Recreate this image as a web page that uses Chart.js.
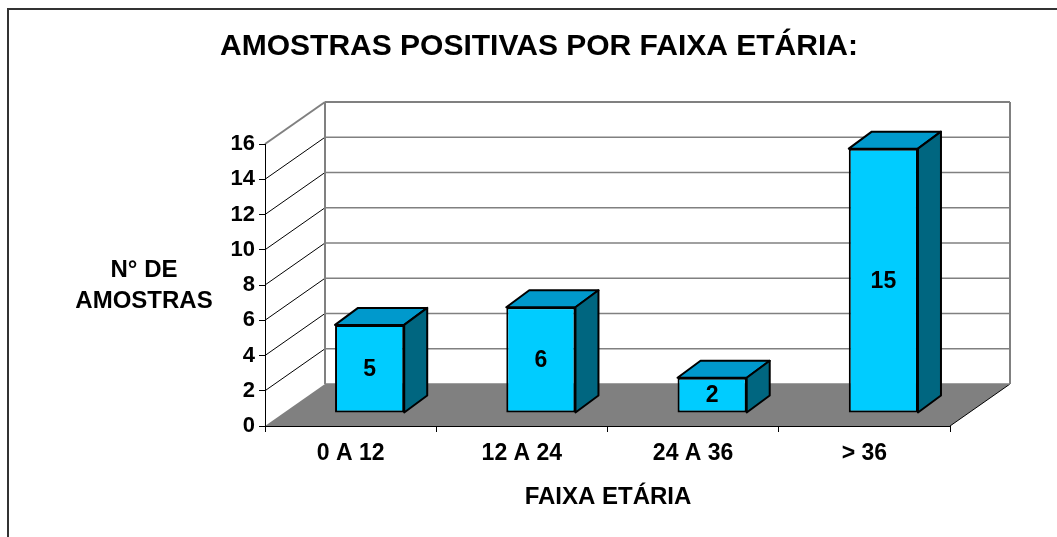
<!DOCTYPE html>
<html>
<head>
<meta charset="utf-8">
<script src="https://cdn.jsdelivr.net/npm/chart.js@4"></script>
<style>
  body { margin: 0; background: #fff; }
  canvas { display: block; }
</style>
</head>
<body>
<canvas id="myChart" width="1057" height="537"></canvas>
<script>
const faixas = ['0 A 12', '12 A 24', '24 A 36', '> 36'];
const amostras = [5, 6, 2, 15];
const yTicks = [0, 2, 4, 6, 8, 10, 12, 14, 16];

const titulo = 'AMOSTRAS POSITIVAS POR FAIXA ETÁRIA:';
const tituloY = ['N° DE', 'AMOSTRAS'];
const tituloX = 'FAIXA ETÁRIA';

const FONT = "'Liberation Sans', Arial, sans-serif";
Chart.defaults.font.family = FONT;

// wall depth and where the bars sit inside it
const wallDx = 60, wallDy = -42;
const barShiftX = 19, barShiftY = -13;
const barDx = 23, barDy = -17;

const walls = {
  id: 'walls',
  beforeDraw(chart) {
    const ctx = chart.ctx;
    const { left, right, bottom } = chart.chartArea;
    const y = chart.scales.y;
    const top = y.getPixelForValue(yTicks[yTicks.length - 1]);

    ctx.save();
    ctx.fillStyle = '#fff';
    ctx.fillRect(0, 0, chart.width, chart.height);

    // floor
    ctx.fillStyle = '#808080';
    ctx.beginPath();
    ctx.moveTo(left, bottom);
    ctx.lineTo(right, bottom);
    ctx.lineTo(right + wallDx, bottom + wallDy);
    ctx.lineTo(left + wallDx, bottom + wallDy);
    ctx.closePath();
    ctx.fill();

    ctx.strokeStyle = '#000';
    ctx.lineWidth = 1;
    ctx.beginPath();
    ctx.moveTo(right, bottom);
    ctx.lineTo(right + wallDx, bottom + wallDy);
    ctx.stroke();

    // left wall diagonals + back wall lines
    yTicks.forEach((v) => {
      const py = y.getPixelForValue(v);
      const last = v === yTicks[yTicks.length - 1];
      if (v > 0) {
        ctx.strokeStyle = last ? '#808080' : '#000';
        ctx.lineWidth = last ? 2 : 1;
        ctx.beginPath();
        ctx.moveTo(left, py);
        ctx.lineTo(left + wallDx, py + wallDy);
        ctx.stroke();
      }
      ctx.strokeStyle = '#808080';
      ctx.lineWidth = last ? 2 : 1.5;
      ctx.beginPath();
      ctx.moveTo(left + wallDx, py + wallDy);
      ctx.lineTo(right + wallDx, py + wallDy);
      ctx.stroke();
    });

    ctx.strokeStyle = '#808080';
    ctx.lineWidth = 2;
    ctx.beginPath();
    ctx.moveTo(left + wallDx, top + wallDy);
    ctx.lineTo(left + wallDx, bottom + wallDy);
    ctx.moveTo(right + wallDx, top + wallDy);
    ctx.lineTo(right + wallDx, bottom + wallDy);
    ctx.stroke();

    // outer frame
    ctx.strokeStyle = '#333';
    ctx.lineWidth = 2;
    ctx.beginPath();
    ctx.moveTo(8, chart.height);
    ctx.lineTo(8, 9);
    ctx.lineTo(chart.width, 9);
    ctx.stroke();

    // titles
    ctx.fillStyle = '#000';
    ctx.textAlign = 'center';
    ctx.textBaseline = 'middle';
    ctx.font = 'bold 30px ' + FONT;
    ctx.fillText(titulo, 539, 47);
    ctx.font = 'bold 24px ' + FONT;
    ctx.fillText(tituloY[0], 144, 270);
    ctx.fillText(tituloY[1], 144, 301);
    ctx.fillText(tituloX, 608, 497);
    ctx.restore();
  }
};

const bars3d = {
  id: 'bars3d',
  beforeDatasetsDraw(chart) {
    chart.ctx.save();
    chart.ctx.translate(barShiftX, barShiftY);
  },
  afterDatasetsDraw(chart) {
    const ctx = chart.ctx;
    const meta = chart.getDatasetMeta(0);
    ctx.lineWidth = 2;
    ctx.lineJoin = 'round';
    ctx.strokeStyle = '#000';
    meta.data.forEach((bar, i) => {
      const l = bar.x - bar.width / 2;
      const r = bar.x + bar.width / 2;
      const t = bar.y;
      const b = bar.base;

      ctx.fillStyle = '#0099CC';
      ctx.beginPath();
      ctx.moveTo(l, t);
      ctx.lineTo(l + barDx, t + barDy);
      ctx.lineTo(r + barDx, t + barDy);
      ctx.lineTo(r, t);
      ctx.closePath();
      ctx.fill();
      ctx.stroke();

      ctx.fillStyle = '#006680';
      ctx.beginPath();
      ctx.moveTo(r, t);
      ctx.lineTo(r + barDx, t + barDy);
      ctx.lineTo(r + barDx, b + barDy);
      ctx.lineTo(r, b);
      ctx.closePath();
      ctx.fill();
      ctx.stroke();

      ctx.fillStyle = '#000';
      ctx.font = 'bold 23px ' + FONT;
      ctx.textAlign = 'center';
      ctx.textBaseline = 'middle';
      ctx.fillText(String(amostras[i]), bar.x, (t + b) / 2 + 1);
    });
    ctx.restore();
  }
};

const ctx = document.getElementById('myChart').getContext('2d');
const myChart = new Chart(ctx, {
  type: 'bar',
  data: {
    labels: faixas,
    datasets: [{
      label: 'Amostras',
      data: amostras,
      backgroundColor: '#00CCFF',
      borderColor: '#000',
      borderWidth: 2,
      borderSkipped: false,
      barPercentage: 0.404,
      categoryPercentage: 1,
      clip: false
    }]
  },
  options: {
    responsive: false,
    animation: false,
    layout: { padding: { left: 0, right: 107, top: 144, bottom: 0 } },
    plugins: {
      legend: { display: false },
      tooltip: { enabled: false }
    },
    scales: {
      x: {
        afterFit: (s) => { s.height = 111; },
        grid: { offset: true, drawOnChartArea: false, tickLength: 6, color: '#000' },
        border: { color: '#000', width: 1 },
        ticks: { color: '#000', padding: 8, font: { size: 23, weight: 'bold' } }
      },
      y: {
        min: 0,
        max: 16,
        afterFit: (s) => { s.width = 265; },
        afterBuildTicks: (s) => { s.ticks = yTicks.map((v) => ({ value: v })); },
        grid: { drawOnChartArea: false, tickLength: 6, color: '#000' },
        border: { color: '#000', width: 1 },
        ticks: { color: '#000', padding: 4, font: { size: 22, weight: 'bold' } }
      }
    }
  },
  plugins: [walls, bars3d]
});
</script>
</body>
</html>
